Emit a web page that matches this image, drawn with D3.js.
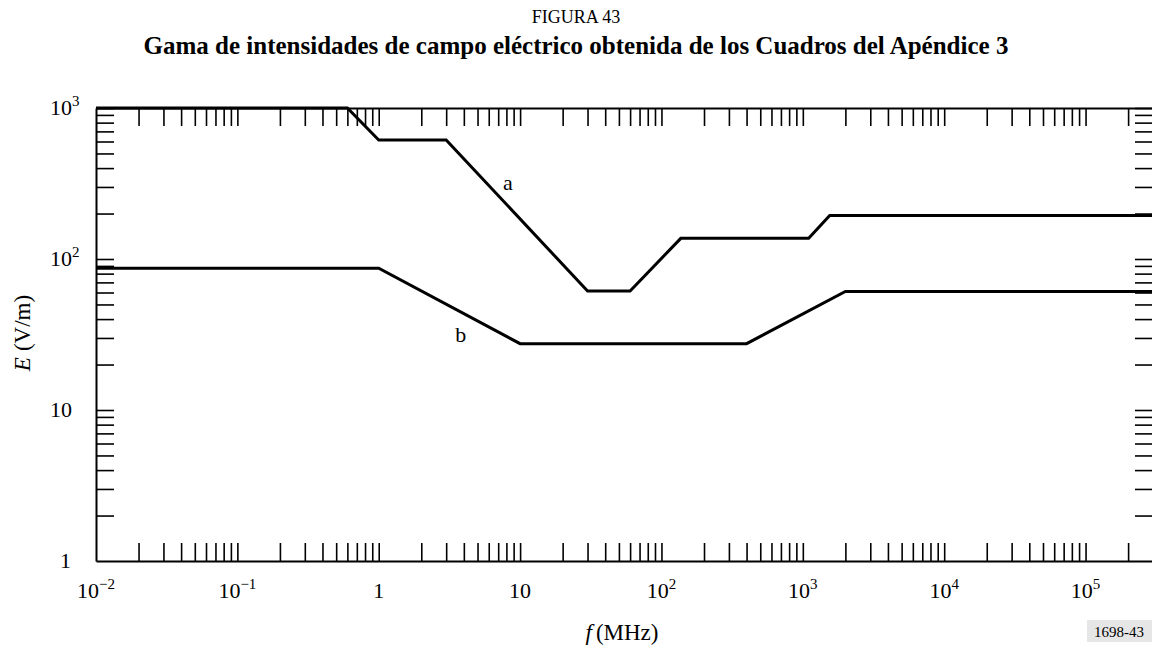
<!DOCTYPE html>
<html>
<head>
<meta charset="utf-8">
<script src="https://cdn.jsdelivr.net/npm/d3@7"></script>
<style>
  html, body { margin: 0; padding: 0; background: #fff; }
  svg { display: block; }
  text { font-family: "Liberation Serif", "Times New Roman", serif; fill: #000; }
</style>
</head>
<body>
<svg id="chart" width="1152" height="650"></svg>
<script>
// ---- data ----
const curveAFreq = [0.01, 0.6, 1, 3, 30, 60, 137, 1100, 1550, 300000];
const curveAField = [1000, 1000, 614, 614, 61.4, 61.4, 137, 137, 194, 194];
const curveBFreq = [0.01, 1, 10, 400, 2000, 300000];
const curveBField = [87, 87, 27.5, 27.5, 61, 61];
const xDecadeExps = [-2, -1, 0, 1, 2, 3, 4, 5];
const yDecadeExps = [0, 1, 2, 3];
const curveLabels = ["a", "b"];
const curveLabelFreq = [8.2, 3.8];
const curveLabelField = [286, 28.2];
const titleText = "FIGURA 43";
const subtitleText = "Gama de intensidades de campo eléctrico obtenida de los Cuadros del Apéndice 3";
const xAxisTitle = "(MHz)";
const yAxisTitle = "(V/m)";
const figRef = "1698-43";

// ---- layout ----
const svg = d3.select("#chart");
const mLeft = 96, mTop = 108, mBottom = 561, mRight = 1153;
const x = d3.scaleLog().domain([0.01, 300000]).range([mLeft, mRight]);
const y = d3.scaleLog().domain([1, 1000]).range([mBottom, mTop]);
const tickLen = 18;

// minor + major tick values
const xTicks = [];
xDecadeExps.forEach(e => { for (let m = 1; m <= 9; m++) { const v = m * Math.pow(10, e); if (v > 0.01 * 1.0001 && v <= 300000) xTicks.push(v); } });
const yTicks = [];
yDecadeExps.forEach(e => { for (let m = 1; m <= 9; m++) { const v = m * Math.pow(10, e); if (v > 1.0001 && v <= 1000) yTicks.push(v); } });

const g = svg.append("g");

function styleAxis(a) {
  a.selectAll(".domain").attr("stroke", "#000").attr("stroke-width", 2);
  a.selectAll(".tick line").attr("stroke", "#000").attr("stroke-width", 1.6);
}
const gB = g.append("g").attr("transform", `translate(0,${mBottom})`)
  .call(d3.axisBottom(x).tickValues(xTicks).tickSizeInner(-tickLen).tickSizeOuter(0).tickFormat(""));
const gT = g.append("g").attr("transform", `translate(0,${mTop})`)
  .call(d3.axisTop(x).tickValues(xTicks).tickSizeInner(-tickLen).tickSizeOuter(0).tickFormat(""));
const gL = g.append("g").attr("transform", `translate(${mLeft},0)`)
  .call(d3.axisLeft(y).tickValues(yTicks).tickSizeInner(-tickLen).tickSizeOuter(0).tickFormat(""));
const gR = g.append("g").attr("transform", `translate(${mRight},0)`)
  .call(d3.axisRight(y).tickValues(yTicks).tickSizeInner(-tickLen).tickSizeOuter(0).tickFormat(""));
[gB, gT, gL, gR].forEach(styleAxis);

// x tick labels
xDecadeExps.forEach(e => {
  const t = g.append("text").attr("x", x(Math.pow(10, e))).attr("y", 598)
    .attr("text-anchor", "middle").attr("font-size", 22);
  if (e === 0) t.text("1");
  else if (e === 1) t.text("10");
  else {
    t.append("tspan").text("10");
    t.append("tspan").attr("font-size", 15).attr("dy", -9).text(e < 0 ? "\u2212" + (-e) : String(e));
  }
});

// y tick labels
yDecadeExps.forEach(e => {
  const yy = y(Math.pow(10, e)) + 7;
  if (e === 0) {
    g.append("text").attr("x", 71).attr("y", yy).attr("text-anchor", "end").attr("font-size", 22).text("1");
  } else {
    g.append("text").attr("x", 72).attr("y", yy).attr("text-anchor", "end").attr("font-size", 22).text("10");
    if (e > 1) g.append("text").attr("x", 72).attr("y", yy - 9).attr("font-size", 15).text(String(e));
  }
});

// curves
const line = d3.line().x(d => x(d[0])).y(d => y(d[1]));
const dataA = curveAFreq.map((f, i) => [f, curveAField[i]]);
const dataB = curveBFreq.map((f, i) => [f, curveBField[i]]);
[dataA, dataB].forEach(d => {
  g.append("path").datum(d).attr("d", line).attr("fill", "none")
    .attr("stroke", "#000").attr("stroke-width", 3).attr("stroke-linejoin", "miter");
});

// curve labels
curveLabels.forEach((lbl, i) => {
  g.append("text").attr("x", x(curveLabelFreq[i])).attr("y", y(curveLabelField[i]))
    .attr("font-size", 22).attr("text-anchor", "middle").text(lbl);
});

// titles
svg.append("text").attr("x", 576).attr("y", 23).attr("text-anchor", "middle").attr("font-size", 18).text(titleText);
svg.append("text").attr("x", 576).attr("y", 54).attr("text-anchor", "middle").attr("font-size", 25)
  .attr("font-weight", "bold").text(subtitleText);

// axis titles
const xt = svg.append("text").attr("x", 622).attr("y", 640).attr("text-anchor", "middle").attr("font-size", 23);
xt.append("tspan").attr("font-style", "italic").text("f");
xt.append("tspan").attr("dx", 4).text(xAxisTitle);

const yt = svg.append("text").attr("transform", "translate(30,333) rotate(-90)").attr("text-anchor", "middle").attr("font-size", 23);
yt.append("tspan").attr("font-style", "italic").text("E");
yt.append("tspan").attr("dx", 6).text(yAxisTitle);

// figure reference
const refG = svg.append("g");
refG.append("rect").attr("x", 1087).attr("y", 620).attr("width", 65).attr("height", 22).attr("fill", "#e6e6e6");
refG.append("text").attr("x", 1119).attr("y", 637).attr("text-anchor", "middle").attr("font-size", 15).text(figRef);
</script>
</body>
</html>
